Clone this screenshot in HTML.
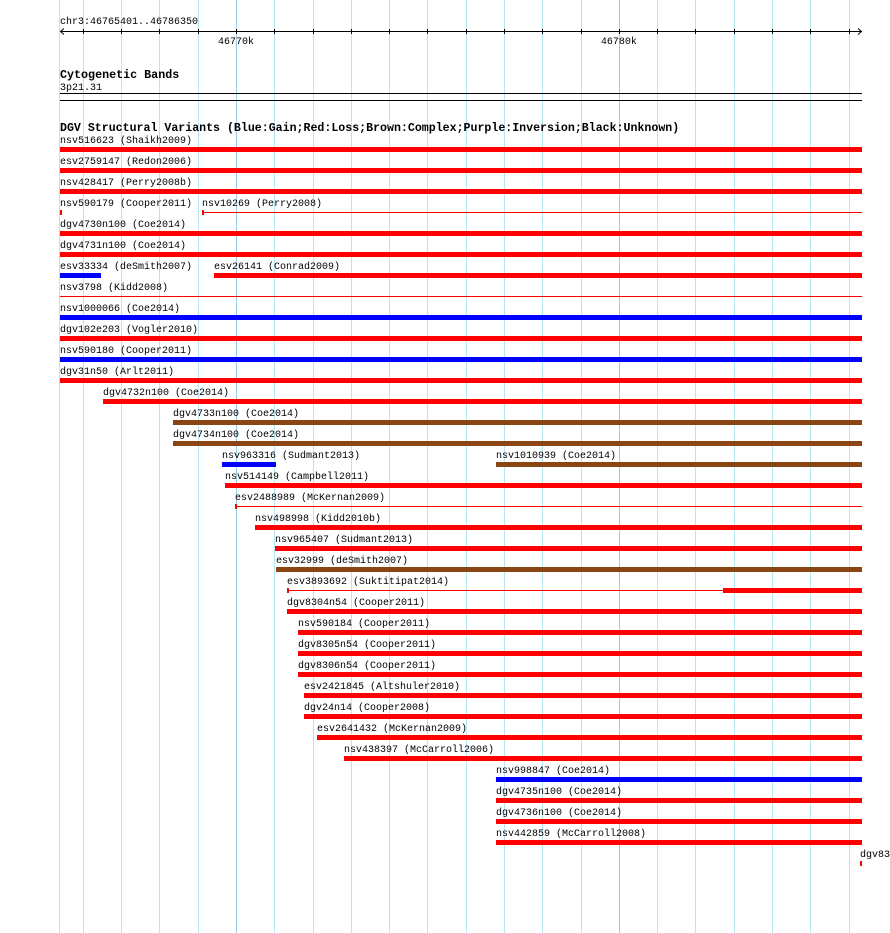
<!DOCTYPE html>
<html><head><meta charset="utf-8"><style>
html,body{margin:0;padding:0;background:#fff;}
svg{display:block;}
text{font-family:"Liberation Mono","DejaVu Sans Mono",monospace;}
</style></head><body>
<svg id="chart" width="890" height="933" viewBox="0 0 890 933" xmlns="http://www.w3.org/2000/svg">
<rect width="890" height="933" fill="#ffffff"/>
<g id="grid">
<line x1="59.5" x2="59.5" y1="0" y2="933" stroke="#b4e8ee" stroke-width="1"/>
</g>
<g id="ruler">
<text x="60" y="24" font-size="10" fill="#000">chr3:46765401..46786350</text>
</g>
<text x="60" y="78" font-size="11.7" font-weight="bold" fill="#000">Cytogenetic Bands</text>
<text x="60" y="90" font-size="10" fill="#000">3p21.31</text>
<rect x="60" y="93" width="802" height="1" fill="#000"/>
<rect x="60" y="100" width="802" height="1" fill="#000"/>
<text x="60" y="131" font-size="11.6" font-weight="bold" fill="#000">DGV Structural Variants (Blue:Gain;Red:Loss;Brown:Complex;Purple:Inversion;Black:Unknown)</text>
<g id="feats"></g>
</svg>
<script>
const REGION_START = 46765401;
const REGION_END = 46786350;
const featureNames = ["nsv516623 (Shaikh2009)","esv2759147 (Redon2006)","nsv428417 (Perry2008b)","nsv590179 (Cooper2011)","nsv10269 (Perry2008)","dgv4730n100 (Coe2014)","dgv4731n100 (Coe2014)","esv33334 (deSmith2007)","esv26141 (Conrad2009)","nsv3798 (Kidd2008)","nsv1000066 (Coe2014)","dgv102e203 (Vogler2010)","nsv590180 (Cooper2011)","dgv31n50 (Arlt2011)","dgv4732n100 (Coe2014)","dgv4733n100 (Coe2014)","dgv4734n100 (Coe2014)","nsv963316 (Sudmant2013)","nsv1010939 (Coe2014)","nsv514149 (Campbell2011)","esv2488989 (McKernan2009)","nsv498998 (Kidd2010b)","nsv965407 (Sudmant2013)","esv32999 (deSmith2007)","esv3893692 (Suktitipat2014)","dgv8304n54 (Cooper2011)","nsv590184 (Cooper2011)","dgv8305n54 (Cooper2011)","dgv8306n54 (Cooper2011)","esv2421845 (Altshuler2010)","dgv24n14 (Cooper2008)","esv2641432 (McKernan2009)","nsv438397 (McCarroll2006)","nsv998847 (Coe2014)","dgv4735n100 (Coe2014)","dgv4736n100 (Coe2014)","nsv442859 (McCarroll2008)","dgv83"];
const featureRows = [0,1,2,3,3,4,5,6,6,7,8,9,10,11,12,13,14,15,15,16,17,18,19,20,21,22,23,24,25,26,27,28,29,30,31,32,33,34];
const featureStarts = [46765401,46765401,46765401,46765401,46769110,46765401,46765401,46765401,46769423,46765401,46765401,46765401,46765401,46765401,46766524,46768353,46768353,46769632,46776789,46769711,46769972,46770494,46771017,46771043,46771330,46771330,46771618,46771618,46771618,46771774,46771774,46772114,46772819,46776789,46776789,46776789,46776789,46786297];
const featureEnds = [46786350,46786350,46786350,46765453,46786350,46786350,46786350,46766472,46786350,46786350,46786350,46786350,46786350,46786350,46786350,46786350,46786350,46771043,46786350,46786350,46786350,46786350,46786350,46786350,46786350,46786350,46786350,46786350,46786350,46786350,46786350,46786350,46786350,46786350,46786350,46786350,46786350,46786350];
const featureTypes = ["loss","loss","loss","loss","loss","loss","loss","gain","loss","loss","gain","loss","gain","loss","loss","complex","complex","gain","complex","loss","loss","loss","loss","complex","loss","loss","loss","loss","loss","loss","loss","loss","loss","gain","loss","loss","loss","loss"];
const featureThin = [0,0,0,0,1,0,0,0,0,1,0,0,0,0,0,0,0,0,0,0,1,0,0,0,1,0,0,0,0,0,0,0,0,0,0,0,0,0];
const featureThickStart = [0,0,0,0,0,0,0,0,0,0,0,0,0,0,0,0,0,0,0,0,0,0,0,0,46782719,0,0,0,0,0,0,0,0,0,0,0,0,0];
const rulerLabels = [46770000, 46780000];

const X0 = 60, X1 = 862;
function xScale(bp){ return X0 + (bp - REGION_START) / (REGION_END - REGION_START) * (X1 - X0); }
function rowY(r){ return 147 + 21 * r; }
const COLORS = {loss:"#ff0000", gain:"#0000ff", complex:"#8b4513", inversion:"#800080", unknown:"#000000"};
const NS = "http://www.w3.org/2000/svg";
function mk(tag, attrs, parent){ const e=document.createElementNS(NS,tag); for(const k in attrs) e.setAttribute(k,attrs[k]); parent.appendChild(e); return e; }

const grid = document.getElementById('grid');
const ruler = document.getElementById('ruler');
for(let kb = Math.ceil(REGION_START/1000)*1000; kb <= REGION_END; kb += 1000){
  const x = Math.round(xScale(kb)) + 0.5;
  const major = kb % 10000 === 0;
  const gl = mk('line',{x1:x,x2:x,y1:0,y2:933,stroke: major ? "#9ccde8" : "#b4e8ee","stroke-width":1}, grid);
  
  
  const t = mk('line',{x1:x,x2:x,y1:29,y2:34,stroke:"#000","stroke-width":1}, ruler);
  
  
}
{
  const l = mk('line',{x1:X0,x2:X1,y1:31.5,y2:31.5,stroke:"#000","stroke-width":1}, ruler);
  
  
  const a1 = mk('path',{d:"M64,28.5 L60.5,31.5 L64,34.5",fill:"none",stroke:"#000"}, ruler);
  
  
  const a2 = mk('path',{d:"M858,28.5 L861.5,31.5 L858,34.5",fill:"none",stroke:"#000"}, ruler);
  
  
}
rulerLabels.forEach(bp=>{
  const t = mk('text',{x:xScale(bp),y:44,"font-size":10,"text-anchor":"middle",fill:"#000"}, ruler);
  t.textContent = (bp/1000)+"k";
  
  
});

const feats = document.getElementById('feats');
featureNames.forEach((name,i)=>{
  const y = rowY(featureRows[i]);
  const xs = xScale(featureStarts[i]);
  const xe = Math.max(xScale(featureEnds[i]), xs + 2);
  const col = COLORS[featureTypes[i]];
  const g = mk('g',{}, feats);
  
  
  const lab = mk('text',{x:xs,y:y-4,"font-size":10,fill:"#000"}, g);
  lab.textContent = name;
  
  
  if(featureThin[i]){
    const ln = mk('rect',{x:xs,y:y+2,width:xe-xs,height:1,fill:col}, g);
    
    
    if(featureStarts[i] > REGION_START){
      const cap = mk('rect',{x:xs,y:y,width:2,height:5,fill:col}, g);
      
      
    }
    if(featureThickStart[i]){
      const ts = xScale(featureThickStart[i]);
      const tb = mk('rect',{x:ts,y:y,width:xe-ts,height:5,fill:col}, g);
      
      
    }
  } else {
    const b = mk('rect',{x:xs,y:y,width:xe-xs,height:5,fill:col}, g);
    
    
  }
});
</script>
</body></html>
